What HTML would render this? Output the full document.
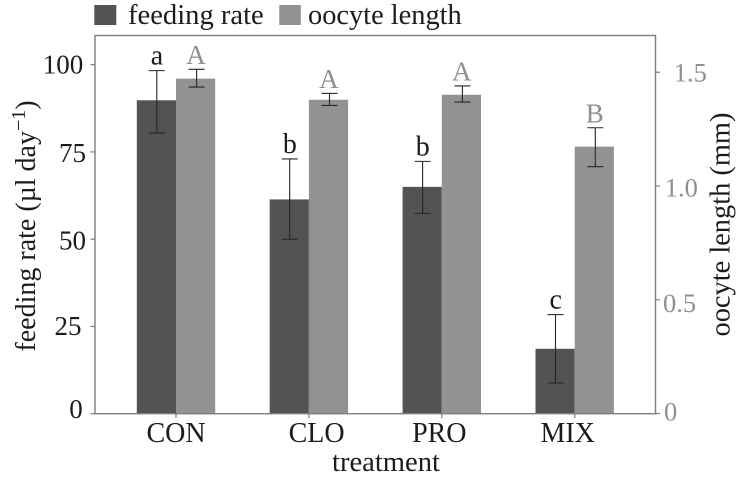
<!DOCTYPE html>
<html>
<head>
<meta charset="utf-8">
<style>
html,body{margin:0;padding:0;background:#fff;width:736px;height:478px;overflow:hidden}
svg{display:block}
text{font-family:"Liberation Serif",serif}
</style>
</head>
<body>
<svg id="chart" width="736" height="478" viewBox="0 0 736 478" xmlns="http://www.w3.org/2000/svg">
  <defs><filter id="soft" x="-5%" y="-5%" width="110%" height="110%"><feGaussianBlur stdDeviation="0.35"/></filter></defs>
  <g id="root" filter="url(#soft)">
    <g>
      <rect x="94.3" y="5" width="22" height="20" fill="#525252"/>
      <text x="128" y="24" font-size="28.6" fill="#1c1c1c">feeding rate</text>
      <rect x="279.3" y="5" width="21.5" height="20" fill="#929292"/>
      <text x="308" y="24" font-size="28.4" fill="#1c1c1c">oocyte length</text>
    </g>
    <text transform="translate(35,226) rotate(-90)" text-anchor="middle" font-size="28" fill="#1c1c1c">feeding rate (µl day<tspan dy="-10" font-size="20">−1</tspan><tspan dy="10">)</tspan></text>
    <text transform="translate(729.5,224.5) rotate(-90)" text-anchor="middle" font-size="28.4" fill="#1c1c1c">oocyte length (mm)</text>
    <text x="386" y="471" text-anchor="middle" font-size="28.6" fill="#1c1c1c">treatment</text>
    <g id="marks"></g>
    <g id="axes"></g>
  </g>
</svg>
<script>
const categories = ['CON', 'CLO', 'PRO', 'MIX'];
const feedingRate = [89.8, 61.4, 65.0, 18.6];
const feedingHigh = [98.3, 73.0, 72.3, 28.4];
const feedingLow = [80.4, 50.0, 57.4, 8.8];
const feedingLetters = ['a', 'b', 'b', 'c'];
const oocyteLength = [1.472, 1.379, 1.401, 1.173];
const oocyteHigh = [1.513, 1.407, 1.440, 1.256];
const oocyteLow = [1.435, 1.354, 1.369, 1.085];
const oocyteLetters = ['A', 'A', 'A', 'B'];
const leftTicks = [0, 25, 50, 75, 100];
const rightTicks = [0, 0.5, 1.0, 1.5];
const rightTickLabels = ['0', '0.5', '1.0', '1.5'];

const NS = 'http://www.w3.org/2000/svg';
const BAR_W = 39.2, DARK = '#525252', LIGHT = '#929292', AXIS = '#7d7d7d', LINE = '#262626';
const xBand = i => 176 + 132.9 * i;
const yLeft = v => 413.7 - 3.49 * v;
const yRight = v => 413.5 - 227.5 * v;
/* hand-placed label nudges seen in the reference, keyed by label */
const xLabelNudge = {CON: 0, CLO: 7.7, PRO: -2.5, MIX: -7};
const leftNudge = {0: [-2.2, 4.3], 25: [-3.5, 8.3], 50: [1, 10.5], 75: [1, 10], 100: [-1.7, 8.6]};
const rightNudge = {'0': [0, 7], '0.5': [-1, 12], '1.0': [0.7, 10.7], '1.5': [9.7, 9.2]};
const marks = document.getElementById('marks');
const axes = document.getElementById('axes');

function make(parent, tag, attrs, text) {
  const el = document.createElementNS(NS, tag);
  for (const k in attrs) el.setAttribute(k, attrs[k]);
  if (text !== undefined) el.textContent = text;
  parent.appendChild(el);
  return el;
}

function whisker(parent, x, hi, lo, name) {
  const g = make(parent, 'g', {stroke: LINE, 'stroke-width': 1.1});
  
  
  make(g, 'line', {x1: x, x2: x, y1: hi, y2: lo});
  make(g, 'line', {x1: x - 8, x2: x + 8, y1: hi, y2: hi});
  make(g, 'line', {x1: x - 8, x2: x + 8, y1: lo, y2: lo});
}

categories.forEach((cat, i) => {
  const c = xBand(i);
  const key = cat.toLowerCase();

  const b1 = make(marks, 'rect', {x: c - BAR_W, y: yLeft(feedingRate[i]), width: BAR_W, height: yLeft(0) - yLeft(feedingRate[i]), fill: DARK});
  
  

  const b2 = make(marks, 'rect', {x: c, y: yRight(oocyteLength[i]), width: BAR_W, height: yRight(0) - yRight(oocyteLength[i]), fill: LIGHT});
  
  

  whisker(marks, c - 19.2, yLeft(feedingHigh[i]), yLeft(feedingLow[i]), 'error-bar-feeding-rate-' + key);
  whisker(marks, c + 20.6, yRight(oocyteHigh[i]), yRight(oocyteLow[i]), 'error-bar-oocyte-length-' + key);

  const l1 = make(marks, 'text', {x: c - 19, y: yLeft(feedingHigh[i]) - 6, 'text-anchor': 'middle', 'font-size': 28, fill: '#1c1c1c'}, feedingLetters[i]);
  
  

  const l2 = make(marks, 'text', {x: c + 20, y: yRight(oocyteHigh[i]) - 5.5, 'text-anchor': 'middle', 'font-size': 27, fill: '#8f8f8f'}, oocyteLetters[i]);
  
  

  const t = make(axes, 'line', {x1: c, x2: c, y1: 413.7, y2: 418, stroke: AXIS, 'stroke-width': 1.2});
  
  

  const lab = make(axes, 'text', {x: c + xLabelNudge[cat], y: 442, 'text-anchor': 'middle', 'font-size': 28, fill: '#1c1c1c'}, cat);
  
  
});

const frame = make(axes, 'rect', {x: 95, y: 35.5, width: 560.5, height: 378.2, fill: 'none', stroke: AXIS, 'stroke-width': 1.4});



leftTicks.forEach(v => {
  const y = yLeft(v);
  const t = make(axes, 'line', {x1: 90.5, x2: 95, y1: y, y2: y, stroke: AXIS, 'stroke-width': 1.2});
  
  
  const n = leftNudge[v] || [0, 9];
  const lab = make(axes, 'text', {x: 85 + n[0], y: y + n[1], 'text-anchor': 'end', 'font-size': 27, fill: '#1c1c1c'}, String(v));
  
  
});

rightTicks.forEach((v, i) => {
  const y = yRight(v);
  const t = make(axes, 'line', {x1: 655.5, x2: 660, y1: y, y2: y, stroke: AXIS, 'stroke-width': 1.2});
  
  
  const n = rightNudge[rightTickLabels[i]] || [0, 9];
  const lab = make(axes, 'text', {x: 664 + n[0], y: y + n[1], 'font-size': 26.5, fill: '#8f8f8f'}, rightTickLabels[i]);
  
  
});
</script>
</body>
</html>
